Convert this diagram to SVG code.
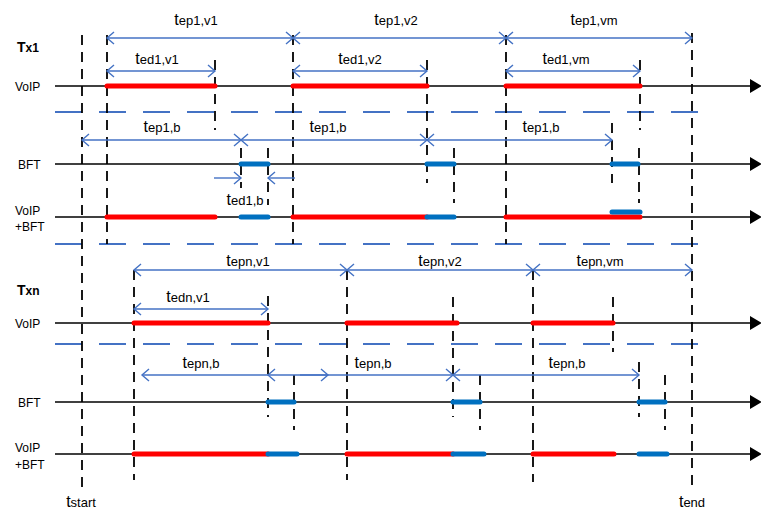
<svg xmlns="http://www.w3.org/2000/svg" width="761" height="512" viewBox="0 0 761 512">
<style>
text{font-family:"Liberation Sans",Arial,sans-serif;fill:#000}
.lbl{font-size:12px}
.ttl{font-size:14px;font-weight:bold}
.ttl .s{font-size:12px}
.dim{font-size:16px;text-anchor:middle}
.dim .s{font-size:13px}
.tl{stroke:#000;stroke-width:1.6;fill:none}
.vd{stroke:#000;stroke-width:1.8;stroke-dasharray:10 7;fill:none}
.sep{stroke:#4472C4;stroke-width:1.8;stroke-dasharray:27 17;fill:none}
.red{stroke:#FF0000;stroke-width:5;stroke-linecap:round;fill:none}
.blu{stroke:#0070C0;stroke-width:5;stroke-linecap:round;fill:none}
.ar{stroke:#4472C4;stroke-width:1.4;fill:none}
.a2{marker-start:url(#ch);marker-end:url(#ch)}
.ae{marker-end:url(#ch)}
.as{marker-start:url(#ch)}
</style>
<defs>
<marker id="ch" viewBox="-10 -8 12 16" refX="0" refY="0" markerWidth="12" markerHeight="16" markerUnits="userSpaceOnUse" orient="auto-start-reverse">
<path d="M-7,-6 L0,0 L-7,6" fill="none" stroke="#4472C4" stroke-width="1.4"/>
</marker>
</defs>

<g id="separators">
<line class="sep" x1="55" y1="112" x2="713" y2="112"/>
<line class="sep" x1="55" y1="244" x2="713" y2="244"/>
<line class="sep" x1="55" y1="344" x2="713" y2="344"/>
</g>

<g id="timelines">
<g id="tx1-voip"><line class="tl" x1="55" y1="86" x2="752" y2="86"/><polygon points="750,79 762,86 750,93"/></g>
<g id="tx1-bft"><line class="tl" x1="55" y1="164" x2="752" y2="164"/><polygon points="750,157 762,164 750,171"/></g>
<g id="tx1-voipbft"><line class="tl" x1="55" y1="217" x2="752" y2="217"/><polygon points="750,210 762,217 750,224"/></g>
<g id="txn-voip"><line class="tl" x1="55" y1="323" x2="752" y2="323"/><polygon points="750,316 762,323 750,330"/></g>
<g id="txn-bft"><line class="tl" x1="55" y1="402" x2="752" y2="402"/><polygon points="750,395 762,402 750,409"/></g>
<g id="txn-voipbft"><line class="tl" x1="55" y1="454" x2="752" y2="454"/><polygon points="750,447 762,454 750,461"/></g>
</g>

<g id="verticals">
<line class="vd" x1="82" y1="35" x2="82" y2="490"/>
<line class="vd" x1="692" y1="33" x2="692" y2="490"/>
<line class="vd" x1="107" y1="35" x2="107" y2="244"/>
<line class="vd" x1="215" y1="60" x2="215" y2="130"/>
<line class="vd" x1="293" y1="35" x2="293" y2="244"/>
<line class="vd" x1="427" y1="60" x2="427" y2="183"/>
<line class="vd" x1="506" y1="35" x2="506" y2="244"/>
<line class="vd" x1="640" y1="60" x2="640" y2="130"/>
<line class="vd" x1="241" y1="148" x2="241" y2="188"/>
<line class="vd" x1="268" y1="148" x2="268" y2="205"/>
<line class="vd" x1="454" y1="148" x2="454" y2="203"/>
<line class="vd" x1="612" y1="123" x2="612" y2="183"/>
<line class="vd" x1="639" y1="148" x2="639" y2="203"/>
<line class="vd" x1="134" y1="270" x2="134" y2="480"/>
<line class="vd" x1="347" y1="270" x2="347" y2="480"/>
<line class="vd" x1="533" y1="270" x2="533" y2="482"/>
<line class="vd" x1="268" y1="296" x2="268" y2="417"/>
<line class="vd" x1="453" y1="297" x2="453" y2="417"/>
<line class="vd" x1="613" y1="297" x2="613" y2="352"/>
<line class="vd" x1="294" y1="375" x2="294" y2="430"/>
<line class="vd" x1="480" y1="375" x2="480" y2="430"/>
<line class="vd" x1="639" y1="362" x2="639" y2="417"/>
<line class="vd" x1="665" y1="375" x2="665" y2="430"/>
</g>

<g id="bars">
<line class="red" x1="107" y1="86" x2="215" y2="86"/>
<line class="red" x1="293" y1="86" x2="427" y2="86"/>
<line class="red" x1="506" y1="86" x2="640" y2="86"/>
<line class="blu" x1="241" y1="164" x2="268" y2="164"/>
<line class="blu" x1="427" y1="164" x2="454" y2="164"/>
<line class="blu" x1="612" y1="164" x2="638" y2="164"/>
<line class="red" x1="107" y1="217" x2="215" y2="217"/>
<line class="blu" x1="241" y1="217" x2="268" y2="217"/>
<line class="red" x1="293" y1="217" x2="427" y2="217"/>
<line class="blu" x1="427" y1="217" x2="454" y2="217"/>
<line class="red" x1="506" y1="217" x2="640" y2="217"/>
<line class="blu" x1="612" y1="212" x2="640" y2="212"/>
<line class="red" x1="134" y1="323" x2="268" y2="323"/>
<line class="red" x1="347" y1="323" x2="457" y2="323"/>
<line class="red" x1="533" y1="323" x2="613" y2="323"/>
<line class="blu" x1="268" y1="402" x2="294" y2="402"/>
<line class="blu" x1="453" y1="402" x2="480" y2="402"/>
<line class="blu" x1="639" y1="402" x2="665" y2="402"/>
<line class="red" x1="134" y1="454" x2="268" y2="454"/>
<line class="blu" x1="268" y1="454" x2="297" y2="454"/>
<line class="red" x1="347" y1="454" x2="453" y2="454"/>
<line class="blu" x1="453" y1="454" x2="484" y2="454"/>
<line class="red" x1="533" y1="454" x2="614" y2="454"/>
<line class="blu" x1="639" y1="454" x2="667" y2="454"/>
</g>

<g id="connectors">
<line class="ar a2" x1="107" y1="38" x2="293" y2="38"/>
<line class="ar a2" x1="293" y1="38" x2="506" y2="38"/>
<line class="ar a2" x1="506" y1="38" x2="692" y2="38"/>
<line class="ar a2" x1="107" y1="71" x2="215" y2="71"/>
<line class="ar a2" x1="293" y1="71" x2="427" y2="71"/>
<line class="ar a2" x1="506" y1="71" x2="640" y2="71"/>
<line class="ar a2" x1="82" y1="140" x2="241" y2="140"/>
<line class="ar a2" x1="241" y1="140" x2="427" y2="140"/>
<line class="ar a2" x1="427" y1="140" x2="612" y2="140"/>
<line class="ar ae" x1="214" y1="178" x2="241" y2="178"/>
<line class="ar ae" x1="295" y1="178" x2="268" y2="178"/>
<line class="ar a2" x1="134" y1="270" x2="347" y2="270"/>
<line class="ar a2" x1="347" y1="270" x2="533" y2="270"/>
<line class="ar a2" x1="533" y1="270" x2="692" y2="270"/>
<line class="ar a2" x1="134" y1="309" x2="268" y2="309"/>
<line class="ar as" x1="142" y1="375" x2="268" y2="375"/>
<line class="ar a2" x1="268" y1="375" x2="453" y2="375"/>
<line class="ar ae" x1="300" y1="375" x2="328" y2="375"/>
<line class="ar a2" x1="453" y1="375" x2="639" y2="375"/>
</g>

<g id="labels">
<text class="ttl" x="17" y="52">T<tspan class="s">x1</tspan></text>
<text class="lbl" x="15" y="91">VoIP</text>
<text class="lbl" x="18" y="169">BFT</text>
<text class="lbl" x="15" y="215">VoIP</text>
<text class="lbl" x="15" y="231">+BFT</text>
<text class="ttl" x="17" y="295">T<tspan class="s">xn</tspan></text>
<text class="lbl" x="15" y="328">VoIP</text>
<text class="lbl" x="18" y="407">BFT</text>
<text class="lbl" x="15" y="452">VoIP</text>
<text class="lbl" x="15" y="469">+BFT</text>

<text class="dim" x="196" y="25">t<tspan class="s">ep1,v1</tspan></text>
<text class="dim" x="396" y="25">t<tspan class="s">ep1,v2</tspan></text>
<text class="dim" x="594" y="25">t<tspan class="s">ep1,vm</tspan></text>
<text class="dim" x="157" y="64">t<tspan class="s">ed1,v1</tspan></text>
<text class="dim" x="360" y="64">t<tspan class="s">ed1,v2</tspan></text>
<text class="dim" x="566" y="64">t<tspan class="s">ed1,vm</tspan></text>
<text class="dim" x="162" y="132">t<tspan class="s">ep1,b</tspan></text>
<text class="dim" x="328" y="132">t<tspan class="s">ep1,b</tspan></text>
<text class="dim" x="541" y="132">t<tspan class="s">ep1,b</tspan></text>
<text class="dim" x="245" y="205">t<tspan class="s">ed1,b</tspan></text>
<text class="dim" x="248" y="266">t<tspan class="s">epn,v1</tspan></text>
<text class="dim" x="440" y="266">t<tspan class="s">epn,v2</tspan></text>
<text class="dim" x="600" y="266">t<tspan class="s">epn,vm</tspan></text>
<text class="dim" x="188" y="302">t<tspan class="s">edn,v1</tspan></text>
<text class="dim" x="201" y="368">t<tspan class="s">epn,b</tspan></text>
<text class="dim" x="373" y="368">t<tspan class="s">epn,b</tspan></text>
<text class="dim" x="567" y="368">t<tspan class="s">epn,b</tspan></text>
<text class="dim" x="81" y="507">t<tspan class="s">start</tspan></text>
<text class="dim" x="692" y="507">t<tspan class="s">end</tspan></text>
</g>
</svg>
